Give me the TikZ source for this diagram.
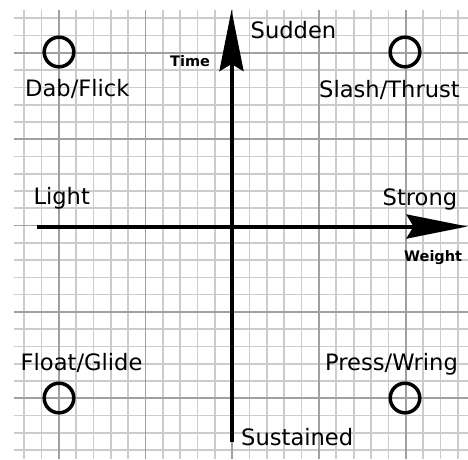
\documentclass[tikz,border=0pt]{standalone}
\usepackage{fontspec}
\setmainfont{DejaVu Sans}
\usetikzlibrary{arrows.meta}
\definecolor{finegrid}{HTML}{CCCCCC}
\definecolor{majorgrid}{HTML}{A0A0A0}
\tikzset{
  fineline/.style={draw=finegrid, line width=1.7pt},
  majorline/.style={draw=majorgrid, line width=1.7pt},
  axisline/.style={line width=4pt, -{Stealth[length=61pt, width=24pt, inset=7pt]}},
  ring/.style={circle, draw, line width=3.5pt, minimum size=29.6pt, inner sep=0pt},
  bigtext/.style={anchor=base west, inner sep=0pt, font=\fontsize{22.6}{26}\selectfont},
  axistext/.style={anchor=base west, inner sep=0pt, font=\fontsize{14.5}{17}\selectfont\bfseries},
}
\begin{document}
\begin{tikzpicture}[x=1pt, y=-1pt]
\useasboundingbox (0,0) rectangle (468,459);
% grid
\foreach \k in {0,...,25}{
  \pgfmathsetmacro{\gx}{24+17.35*\k}
  \pgfmathsetmacro{\gy}{18.3+17.27*\k}
  \draw[fineline] (\gx,10) -- (\gx,459);
  \draw[fineline] (14,\gy) -- (468,\gy);
}
\foreach \k in {2,7,12,17,22}{
  \pgfmathsetmacro{\gx}{24+17.35*\k}
  \pgfmathsetmacro{\gy}{18.3+17.27*\k}
  \draw[majorline] (\gx,10) -- (\gx,459);
  \draw[majorline] (14,\gy) -- (468,\gy);
}
% axes
\coordinate (vbot) at (231.5,442);
\coordinate (vtop) at (231.5,10);
\coordinate (hleft) at (37,226.5);
\coordinate (hright) at (467.5,226.5);
\draw[axisline] (vbot) -- (vtop);
\draw[axisline] (hleft) -- (hright);
% circles
\node[ring] (dab) at (59,52) {};
\node[ring] (slash) at (405,52) {};
\node[ring] (float) at (59,398) {};
\node[ring] (press) at (405,398) {};
% labels
\node[bigtext] (tdab) at (25,96.7) {Dab/Flick};
\node[bigtext] (tslash) at (319,97) {Slash/Thrust};
\node[bigtext] (tsudden) at (250.5,38) {Sudden};
\node[bigtext] (tlight) at (33.3,204.3) {Light};
\node[bigtext] (tstrong) at (382.5,205) {Strong};
\node[bigtext] (tfloat) at (20.5,370.7) {Float/Glide};
\node[bigtext] (tpress) at (325,370) {Press/Wring};
\node[bigtext] (tsus) at (241,445.7) {Sustained};
\node[axistext] (ttime) at (170,66.7) {Time};
\node[axistext] (tweight) at (404,261.7) {Weight};
\end{tikzpicture}
\end{document}
